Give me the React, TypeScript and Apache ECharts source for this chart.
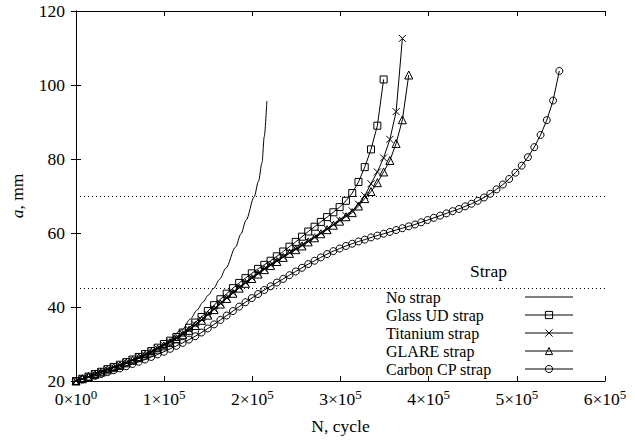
import React, { useEffect, useRef } from "react";
import * as echarts from "echarts";

// Shared sampling grid of the strap curves, in thousands of cycles
const N_GRID = [0, 7.1, 14.2, 21.4, 28.5, 35.6, 42.7, 49.8, 57, 64.1, 71.2, 78.3, 85.4, 92.6, 99.7, 106.8, 113.9, 121, 128.2, 135.3, 142.4, 149.5, 156.6, 163.8, 170.9, 178, 185.1, 192.2, 199.4, 206.5, 213.6, 220.7, 227.8, 235, 242.1, 249.2, 256.3, 263.4, 270.6, 277.7, 284.8, 291.9, 299, 306.2, 313.3, 320.4, 327.5, 334.6, 341.8, 348.9, 356, 363.1, 370.2, 377.4, 384.5, 391.6, 398.7, 405.8, 413, 420.1, 427.2, 434.3, 441.4, 448.6, 455.7, 462.8, 469.9, 477, 484.2, 491.3, 498.4, 505.5, 512.6, 519.8, 526.9, 534, 541.1, 548.2];

const NO_STRAP_N = [0, 20, 40, 60, 80, 100, 120, 130, 137, 144, 150, 156, 163, 170, 181, 187, 193, 202, 207, 211, 213.5, 216.5];
const NO_STRAP_A = [20, 21.3, 22.9, 24.8, 27.1, 29.9, 33.8, 36.8, 39.1, 41.3, 43.2, 45, 47.5, 50.5, 56.2, 59.7, 63.5, 69.7, 74, 79, 86, 95.7];

const GLASS_A = [20, 20.6, 21.2, 21.9, 22.5, 23.2, 23.8, 24.4, 25.1, 25.8, 26.5, 27.3, 28.1, 29, 30, 30.9, 31.9, 33.1, 34.4, 35.8, 37.3, 38.9, 40.5, 42.1, 43.6, 45.1, 46.5, 47.8, 49.1, 50.3, 51.4, 52.5, 53.7, 55, 56.3, 57.6, 59, 60.4, 61.7, 63, 64.3, 65.6, 67, 68.7, 70.8, 73.8, 77.8, 82.6, 89, 101.5];

const TITANIUM_A = [20, 20.6, 21.2, 21.8, 22.4, 23.1, 23.7, 24.3, 25, 25.7, 26.4, 27.1, 27.9, 28.8, 29.7, 30.6, 31.6, 32.7, 33.9, 35.2, 36.6, 38, 39.5, 41, 42.5, 43.9, 45.3, 46.6, 47.9, 49.1, 50.3, 51.4, 52.5, 53.6, 54.7, 55.7, 56.7, 57.8, 58.9, 60, 61.1, 62.3, 63.5, 64.7, 66, 67.8, 70.1, 73.3, 76.5, 80.3, 85.3, 92.8, 112.6];

const GLARE_A = [20, 20.6, 21.2, 21.8, 22.4, 23.0, 23.6, 24.2, 24.9, 25.6, 26.3, 27.0, 27.8, 28.6, 29.5, 30.4, 31.4, 32.5, 33.7, 35.0, 36.4, 37.8, 39.3, 40.8, 42.3, 43.7, 45.1, 46.4, 47.7, 48.9, 50.1, 51.2, 52.3, 53.4, 54.5, 55.5, 56.5, 57.6, 58.7, 59.8, 60.9, 62.1, 63.2, 64.4, 65.5, 67.3, 69.3, 71.2, 73.6, 76.5, 79.6, 84.2, 90.6, 102.7];

const CARBON_A = [20, 20.4, 20.9, 21.4, 21.9, 22.4, 22.9, 23.4, 24, 24.6, 25.2, 25.8, 26.5, 27.2, 27.9, 28.7, 29.5, 30.3, 31.2, 32.1, 33.1, 34.2, 35.3, 36.5, 37.7, 38.9, 40.1, 41.3, 42.4, 43.5, 44.6, 45.6, 46.6, 47.6, 48.6, 49.6, 50.6, 51.6, 52.5, 53.4, 54.3, 55.1, 55.8, 56.5, 57.1, 57.7, 58.2, 58.8, 59.3, 59.8, 60.3, 60.8, 61.3, 61.8, 62.3, 62.9, 63.5, 64.1, 64.7, 65.3, 65.9, 66.5, 67.2, 67.9, 68.7, 69.6, 70.6, 71.8, 73.1, 74.6, 76.3, 78.2, 80.5, 83.2, 86.5, 90.5, 95.8, 103.8];

const STRAP_BOUNDS = [45, 70];
const X_TICK_MANTISSA = [0, 1, 2, 3, 4, 5, 6];

const FONT = "Liberation Serif";
const FS = 17.5;
const LEGEND_FS = 16;

const pairs = (xs: number[], ys: number[]) => ys.map((y, i) => [xs[i] * 1000, y]);

export default function App() {
  const ref = useRef<HTMLDivElement>(null);
  useEffect(() => {
    document.body.style.margin = "0";
    if (!ref.current) return;
    const chart = echarts.init(ref.current, undefined, { renderer: "svg" });
    const black = "#000";
    const clear = "rgba(0,0,0,0)";
    const markerStyle = { color: clear, borderColor: black, borderWidth: 1 };
    const lineSeries = (name: string, data: number[][], symbol: string, size: number) => ({
      name,
      type: "line",
      data,
      symbol,
      symbolSize: size,
      showSymbol: true,
      lineStyle: { color: black, width: 1 },
      itemStyle: markerStyle,
      emphasis: { disabled: true },
      z: 3,
    });
    const legendMarker = { color: clear, borderColor: black, borderWidth: 1 };
    const option: any = {
      animation: false,
      backgroundColor: "#fff",
      textStyle: { fontFamily: FONT },
      grid: { left: 72, right: 30, top: 11, bottom: 60 },
      legend: {
        orient: "vertical",
        left: 386,
        top: 289,
        padding: 0,
        align: "right",
        itemWidth: 48,
        itemHeight: 9,
        itemGap: 2,
        selectedMode: false,
        itemStyle: legendMarker,
        lineStyle: { color: black, width: 1 },
        formatter: (n: string) => `{n|${n}}`,
        textStyle: {
          fontFamily: FONT,
          fontSize: LEGEND_FS,
          color: black,
          rich: { n: { width: 134, align: "left", lineHeight: 17, fontSize: LEGEND_FS, fontFamily: FONT, color: black } },
        },
        data: [
          { name: "No strap", itemStyle: { color: clear, borderColor: clear, borderWidth: 0 } },
          { name: "Glass UD strap" },
          { name: "Titanium strap" },
          { name: "GLARE strap" },
          { name: "Carbon CP strap" },
        ],
      },
      xAxis: [
        {
          type: "value",
          min: 0,
          max: 600000,
          interval: 100000,
          name: "N, cycle",
          nameLocation: "middle",
          nameGap: 36,
          nameTextStyle: { fontFamily: FONT, fontSize: FS, color: black },
          axisLine: { lineStyle: { color: black, width: 1 } },
          axisTick: { inside: true, length: 5, lineStyle: { color: black } },
          splitLine: { show: false },
          axisLabel: {
            margin: 7,
            color: black,
            formatter: (v: number) => {
              const k = Math.round(v / 100000);
              const m = X_TICK_MANTISSA[k];
              return m === 0 ? `{b|0×10}{s|0}` : `{b|${m}×10}{s|5}`;
            },
            rich: {
              b: { fontFamily: FONT, fontSize: FS, color: black },
              s: { fontFamily: FONT, fontSize: 13, color: black, padding: [0, 0, 9, 0] },
            },
          },
        },
        {
          type: "value",
          position: "top",
          min: 0,
          max: 600000,
          interval: 100000,
          axisLine: { show: true, lineStyle: { color: black, width: 1 } },
          axisTick: { show: true, inside: true, length: 5, lineStyle: { color: black } },
          axisLabel: { show: false },
          splitLine: { show: false },
        },
      ],
      yAxis: [
        {
          type: "value",
          min: 20,
          max: 120,
          interval: 20,
          name: "{i|a}, mm",
          nameLocation: "middle",
          nameGap: 50,
          nameRotate: 90,
          nameTextStyle: {
            fontFamily: FONT,
            fontSize: FS,
            color: black,
            rich: { i: { fontStyle: "italic", fontFamily: FONT, fontSize: FS, color: black } },
          },
          axisLine: { show: true, lineStyle: { color: black, width: 1 } },
          axisTick: { show: true, inside: true, length: 5, lineStyle: { color: black } },
          splitLine: { show: false },
          axisLabel: { margin: 11, color: black, fontFamily: FONT, fontSize: FS },
        },
        {
          type: "value",
          position: "right",
          min: 20,
          max: 120,
          interval: 20,
          axisLine: { show: true, lineStyle: { color: black, width: 1 } },
          axisTick: { show: true, inside: true, length: 5, lineStyle: { color: black } },
          axisLabel: { show: false },
          splitLine: { show: false },
        },
      ],
      graphic: [
        {
          type: "text",
          left: 470,
          top: 262,
          style: { text: "Strap", fontFamily: FONT, fontSize: FS, fill: black },
        },
      ],
      series: [
        {
          name: "No strap",
          type: "line",
          data: pairs(NO_STRAP_N, NO_STRAP_A),
          symbol: "none",
          smooth: 0.3,
          smoothMonotone: "x",
          lineStyle: { color: black, width: 1 },
          itemStyle: { color: black },
          emphasis: { disabled: true },
          markLine: {
            silent: true,
            symbol: "none",
            label: { show: false },
            lineStyle: { color: black, width: 1.2, type: [1, 3] },
            data: STRAP_BOUNDS.map((y) => ({ yAxis: y })),
          },
        },
        lineSeries("Glass UD strap", pairs(N_GRID, GLASS_A), "rect", 7),
        lineSeries("Titanium strap", pairs(N_GRID, TITANIUM_A), "path://M0,0L10,10M10,0L0,10", 7),
        lineSeries("GLARE strap", pairs(N_GRID, GLARE_A), "triangle", 8),
        lineSeries("Carbon CP strap", pairs(N_GRID, CARBON_A), "circle", 7),
      ],
    };
    chart.setOption(option);
    return () => chart.dispose();
  }, []);
  return <div ref={ref} style={{ width: 635, height: 441 }} />;
}
